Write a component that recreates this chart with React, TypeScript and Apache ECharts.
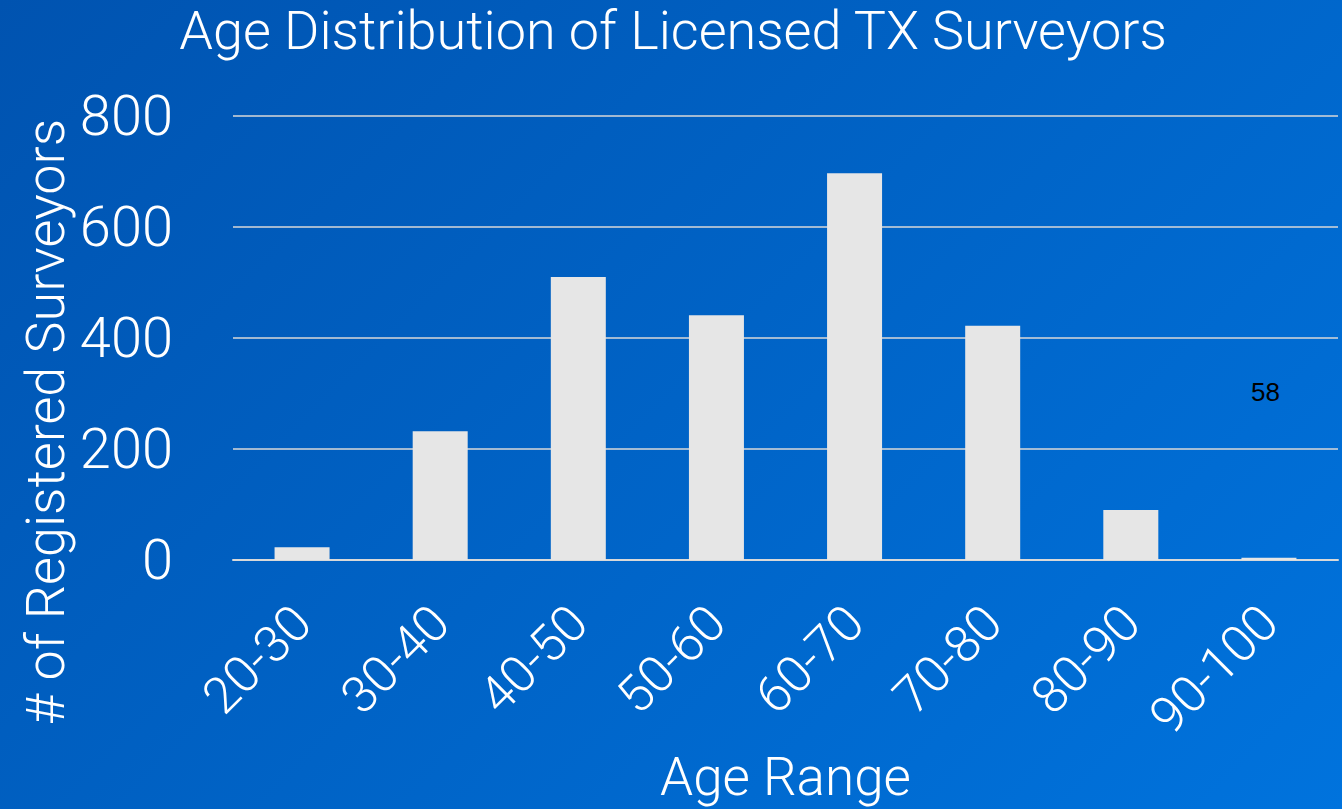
import React, { useEffect, useRef } from "react";
import * as echarts from "echarts";

const categories = ["20-30", "30-40", "40-50", "50-60", "60-70", "70-80", "80-90", "90-100"];
const counts = [23, 232, 510, 441, 697, 422, 90, 4];
const yTicks = [0, 200, 400, 600, 800];
const strayLabel = "58";

export default function App() {
  const ref = useRef<HTMLDivElement>(null);
  useEffect(() => {
    const chart = echarts.init(ref.current!, null, { renderer: "svg" });
    const font = "Roboto";
    chart.setOption({
      animation: false,
      backgroundColor: "transparent",
      title: {
        text: "Age Distribution of Licensed TX Surveyors",
        left: 668,
        textAlign: "center",
        top: -2,
        textStyle: { color: "#ffffff", fontFamily: font, fontWeight: 300, fontSize: 54 },
      },
      grid: { left: 233, right: 4, top: 116, bottom: 249, containLabel: false, outerBoundsMode: "none" },
      xAxis: {
        type: "category",
        data: categories,
        name: "Age Range",
        nameLocation: "middle",
        nameGap: 190,
        nameTextStyle: { color: "#ffffff", fontFamily: font, fontWeight: 300, fontSize: 53 },
        axisLine: { show: true, lineStyle: { color: "#d9d9d9", width: 2 } },
        axisTick: { show: false },
        axisLabel: {
          color: "#ffffff",
          fontFamily: font,
          fontWeight: 300,
          fontSize: 51,
          rotate: 45,
          margin: 54,
          interval: 0,
        },
      },
      yAxis: {
        type: "value",
        min: 0,
        max: 800,
        interval: 200,
        axisLine: { show: false },
        axisTick: { show: false },
        axisLabel: {
          color: "#ffffff",
          fontFamily: font,
          fontWeight: 300,
          fontSize: 56,
          margin: 60,
          formatter: (v: number) => (yTicks.includes(v) ? String(v) : ""),
        },
        splitLine: { show: true, lineStyle: { color: "#d9d9d9", width: 1.5 } },
      },
      series: [
        {
          type: "bar",
          data: counts,
          barWidth: 55,
          itemStyle: { color: "#e6e6e6" },
        },
      ],
      graphic: [
        {
          type: "text",
          x: 45,
          y: 422,
          rotation: Math.PI / 2,
          style: {
            text: "# of Registered Surveyors",
            fill: "#ffffff",
            font: "300 54px Roboto",
            align: "center",
            verticalAlign: "middle",
          },
        },
        {
          type: "text",
          left: 1251,
          top: 379,
          style: { text: strayLabel, fill: "#000000", font: "26px 'Liberation Sans', Arial, sans-serif" },
        },
      ],
    });
    return () => chart.dispose();
  }, []);
  return (
    <div
      style={{
        position: "fixed",
        left: 0,
        top: 0,
        width: 1342,
        height: 809,
        background: "linear-gradient(135deg, #0053b0 0%, #0063c6 50%, #0073dd 100%)",
      }}
    >
      <div ref={ref} style={{ width: 1342, height: 809 }} />
    </div>
  );
}
